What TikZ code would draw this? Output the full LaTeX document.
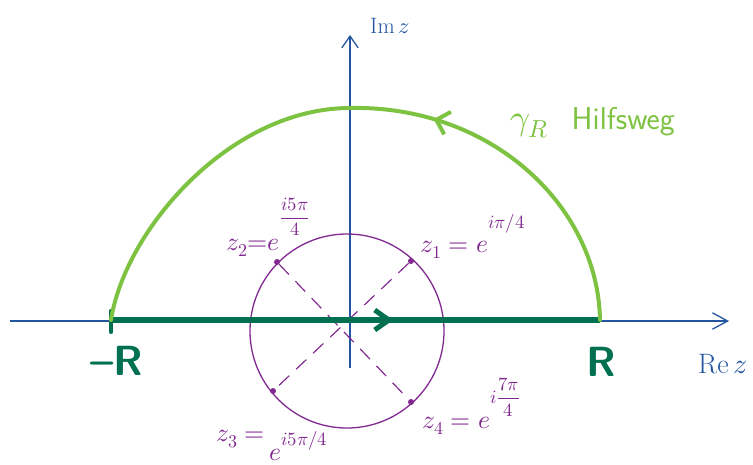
\documentclass[tikz,border=0pt]{standalone}
\usepackage{amsmath}
\usepackage{unicode-math}
\usetikzlibrary{arrows.meta,decorations.markings}
\definecolor{axblue}{RGB}{35,85,160}
\definecolor{dgreen}{RGB}{0,112,80}
\definecolor{lgreen}{RGB}{125,195,65}
\definecolor{purp}{RGB}{130,40,145}
\newcommand{\myexp}[2]{\raisebox{#1}{\fontsize{16}{16}\selectfont$#2$}}
\begin{document}
\begin{tikzpicture}[x=0.03cm,y=-0.03cm,
  axisline/.style={draw=axblue,line width=1.1pt},
  dgline/.style={draw=dgreen,line width=4.3pt},
  lgline/.style={draw=lgreen,line width=3.4pt,line cap=round,line join=round},
  ptmark/.style={circle,fill=purp,inner sep=0pt,minimum size=0.18cm},
  dsh/.style={draw=purp,line width=1pt,dash pattern=on 12pt off 8pt},
  plab/.style={text=purp,font=\fontsize{22}{22}\selectfont,inner sep=0pt},
  rlab/.style={text=dgreen,font=\sffamily\bfseries\fontsize{36}{36}\selectfont,inner sep=0pt},
  blab/.style={text=axblue,inner sep=0pt}]
\fill[white] (0,0) rectangle (753,464);
\useasboundingbox (0,0) rectangle (753,464);

% axes
\coordinate (xl) at (10,321);
\coordinate (xr) at (729,321);
\coordinate (yb) at (350,368);
\coordinate (yt) at (350,35);
\draw[axisline,-{Straight Barb[length=13pt,width=14pt]}] (xl) -- (xr);
\draw[axisline,-{Straight Barb[length=10pt,width=14pt]}] (yb) -- (yt);
\node[blab,anchor=base west,font=\fontsize{19}{19}\selectfont] (imz) at (370,33) {$\mathrm{Im}\,z$};
\node[blab,anchor=base west,font=\fontsize{24}{24}\selectfont] (rez) at (698,373) {$\mathrm{Re}\,z$};

% unit circle and poles
\node[circle,draw=purp,line width=1.1pt,minimum size=5.82cm,inner sep=0pt] (C) at (347,331) {};
\node[ptmark] (z1) at (411,261) {};
\node[ptmark] (z2) at (277,262) {};
\node[ptmark] (z3) at (273,391) {};
\node[ptmark] (z4) at (411,402) {};
\draw[dsh] (z2) -- (z4);
\draw[dsh] (z1) -- (z3);

\node[plab,anchor=base west] (l1) at (420,252) {$z_1 = e$\myexp{20pt}{i\pi/4}};
\node[plab,anchor=base west] (l2) at (226,250) {$z_2{=}e$\myexp{23pt}{\dfrac{i5\pi}{4}}};
\node[plab,anchor=base west] (l3) at (216,460) {\raisebox{16pt}{$z_3=$}\,$e$\myexp{12pt}{i5\pi/4}};
\node[plab,anchor=base west] (l4) at (422,428) {$z_4 = e$\myexp{21pt}{i\dfrac{7\pi}{4}}};

% real segment
\coordinate (mR) at (111,320);
\coordinate (Rp) at (600,320);
\coordinate (top) at (350,108);
\coordinate (mRa) at (111,311);
\coordinate (mRb) at (111,332);
\draw[dgline,decoration={markings,mark=at position 0.577 with {\arrow{Straight Barb[length=12pt,width=17pt]}}},postaction={decorate}] (mR) -- (Rp);
\draw[dgreen,line width=3.5pt,line cap=round] (mRa) -- (mRb);

% half circle gamma_R
\draw[lgline,decoration={markings,mark=at position 0.395 with {\arrow{Straight Barb[length=10pt,width=20pt]}}},postaction={decorate}]
  (Rp) .. controls (598,205) and (490,105) .. (top) .. controls (230,108) and (125,230) .. (mR);

\node[rlab] (Rl) at (601,362) {R};
\node[rlab] (mRl) at (117,361) {--R};
\node[text=lgreen,anchor=base west,inner sep=0pt,font=\sffamily\fontsize{27}{27}\selectfont] (hw) at (510,129) {\fontsize{30}{30}\selectfont$\gamma_R$\hspace{20pt}\fontsize{27}{27}\selectfont Hilfsweg};
\end{tikzpicture}
\end{document}
